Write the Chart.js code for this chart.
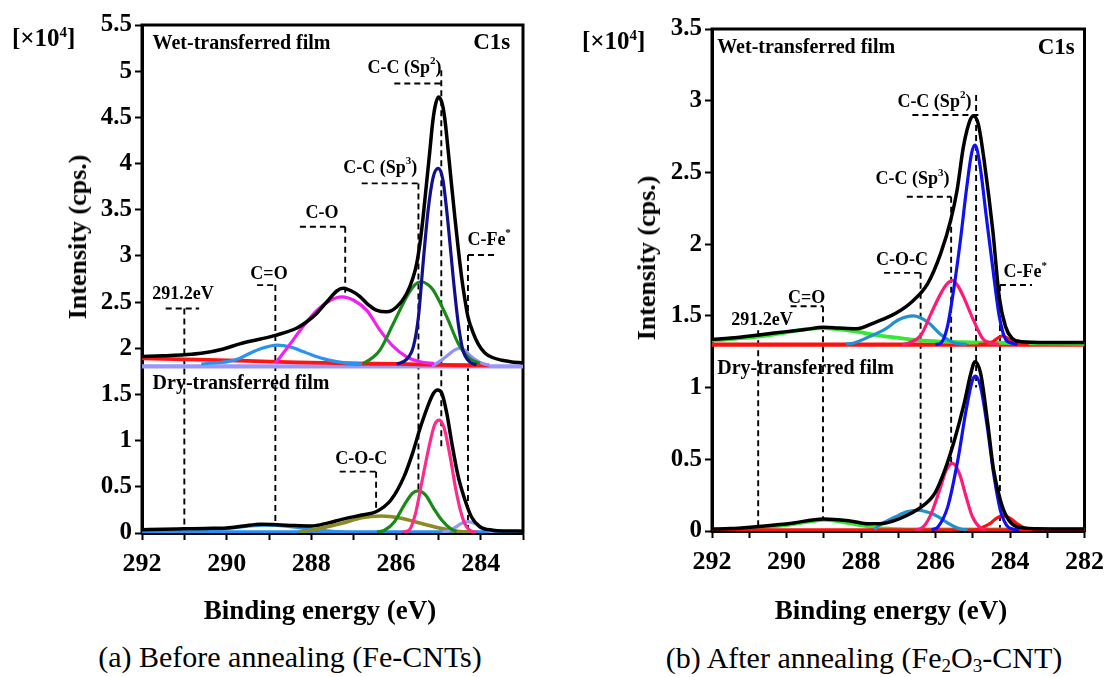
<!DOCTYPE html>
<html lang="en">
<head>
  <meta charset="UTF-8" />
  <title>C1s spectra of wet- and dry-transferred films</title>
  <script src="https://cdn.jsdelivr.net/npm/chart.js"></script>
  <style>
    body { margin: 0; background: #fff; font-family: "Liberation Serif", "Times New Roman", serif; }
    .page { position: relative; width: 1113px; height: 677px; overflow: hidden; }
    canvas { position: absolute; top: 0; }
    #chartA { left: 0; }
    #chartB { left: 556px; }
    .txt { position: absolute; white-space: nowrap; color: #000; line-height: 1; }
    .unit { font-weight: bold; font-size: 25px; transform: translateY(-50%); }
    .unit sup { font-size: 15px; line-height: 0; vertical-align: 9px; }
    .ytitle { font-weight: bold; font-size: 26px; transform: translate(-50%, -50%) rotate(-90deg); }
    .xtitle { font-weight: bold; font-size: 27px; transform: translate(-50%, -50%); }
    .caption { font-size: 30px; transform: translate(-50%, -50%); }
    .caption sub { font-size: 19px; line-height: 0; vertical-align: -4px; }
  </style>
</head>
<body>
<div class="page">
  <canvas id="chartA" width="556" height="600"></canvas>
  <canvas id="chartB" width="557" height="600"></canvas>

  <div class="txt unit" style="left:12px; top:37px;">[&times;10<sup>4</sup>]</div>
  <div class="txt unit" style="left:582px; top:40px;">[&times;10<sup>4</sup>]</div>
  <div class="txt ytitle" style="left:78px; top:237px;">Intensity (cps.)</div>
  <div class="txt ytitle" style="left:647px; top:258px;">Intensity (cps.)</div>
  <div class="txt xtitle" style="left:320px; top:610px;">Binding energy (eV)</div>
  <div class="txt xtitle" style="left:891px; top:610px;">Binding energy (eV)</div>
  <div class="txt caption" style="left:290px; top:657px;">(a) Before annealing (Fe-CNTs)</div>
  <div class="txt caption" style="left:864px; top:658px;">(b) After annealing (Fe<sub>2</sub>O<sub>3</sub>-CNT)</div>
</div>

<script>
  // ------------------------------------------
  // (a) Before annealing: [binding energy eV, intensity x1e4 cps]
  // ------------------------------------------
  const aWetTotal = [[292,1.91],[291.5,1.92],[291,1.93],[290.6,1.945],[290.1,1.99],[289.67,2.05],[289.2,2.1],[288.85,2.14],[288.34,2.22],[288.1,2.29],[287.87,2.38],[287.6,2.52],[287.4,2.62],[287.25,2.65],[287.05,2.62],[286.85,2.56],[286.65,2.47],[286.45,2.41],[286.22,2.395],[285.98,2.45],[285.75,2.59],[285.6,2.76],[285.51,2.92],[285.43,3.15],[285.36,3.42],[285.28,3.78],[285.2,4.14],[285.14,4.42],[285.08,4.61],[285,4.72],[284.94,4.69],[284.89,4.61],[284.83,4.42],[284.77,4.15],[284.69,3.78],[284.61,3.42],[284.53,3.08],[284.45,2.77],[284.38,2.55],[284.3,2.34],[284.18,2.17],[284.05,2.04],[283.9,1.95],[283.72,1.9],[283.5,1.87],[283.3,1.855],[283,1.84]];
  const aWetCarbonyl = [[290.6,1.83],[290.2,1.845],[289.98,1.855],[289.7,1.89],[289.5,1.935],[289.2,1.995],[288.81,2.035],[288.5,2.015],[288.2,1.965],[288,1.93],[287.7,1.885],[287.4,1.855],[287.16,1.84],[286.8,1.83]];
  const aWetHydroxyl = [[288.85,1.837],[288.49,2.053],[288.26,2.197],[287.87,2.41],[287.55,2.52],[287.28,2.557],[287,2.52],[286.69,2.41],[286.38,2.197],[286.06,2.017],[285.75,1.908],[285.43,1.854],[285.1,1.835]];
  const aWetSp3 = [[286.77,1.837],[286.55,1.9],[286.38,1.98],[286.06,2.27],[285.75,2.557],[285.55,2.69],[285.4,2.72],[285.25,2.69],[285.12,2.63],[284.8,2.34],[284.53,2.053],[284.26,1.89],[284.02,1.837]];
  const aWetSp2 = [[285.98,1.83],[285.75,1.88],[285.59,2.017],[285.47,2.34],[285.36,2.92],[285.24,3.5],[285.12,3.856],[285,3.947],[284.89,3.82],[284.77,3.35],[284.65,2.77],[284.53,2.27],[284.42,1.98],[284.26,1.854],[284.1,1.82]];
  const aWetCFe = [[285.15,1.81],[285.04,1.837],[284.9,1.88],[284.77,1.926],[284.62,1.98],[284.49,2],[284.36,1.975],[284.26,1.926],[284.1,1.87],[283.95,1.835],[283.8,1.815]];
  const aWetShirley = [[292,1.89],[291,1.88],[290,1.87],[289,1.855],[288,1.845],[287,1.835],[286,1.83],[285,1.82],[283.8,1.815]];
  const aWetBase = [[292,1.805],[283,1.805]];

  const aDryTotal = [[292,0.036],[291.5,0.04],[291,0.045],[290.5,0.05],[290,0.055],[289.6,0.075],[289.2,0.095],[288.8,0.09],[288.4,0.08],[288,0.075],[287.6,0.11],[287.28,0.148],[286.81,0.195],[286.47,0.23],[286.12,0.357],[285.81,0.61],[285.61,0.862],[285.42,1.15],[285.22,1.407],[285.11,1.515],[285.02,1.548],[284.92,1.515],[284.8,1.295],[284.68,0.97],[284.53,0.61],[284.37,0.357],[284.22,0.176],[284.02,0.068],[283.71,0.03],[283.4,0.022],[283,0.02]];
  const aDryCarbonyl = [[290.8,0.01],[290.3,0.03],[289.8,0.06],[289.1,0.085],[288.5,0.07],[288,0.04],[287.5,0.018],[287.2,0.01]];
  const aDryEpoxy = [[288.3,0.01],[288,0.03],[287.7,0.06],[287.28,0.105],[286.81,0.166],[286.35,0.184],[285.88,0.159],[285.42,0.105],[284.95,0.05],[284.49,0.015],[284.2,0.01]];
  const aDrySp3 = [[286.45,0.01],[286.27,0.03],[286.04,0.12],[285.81,0.3],[285.61,0.43],[285.48,0.455],[285.3,0.41],[285.11,0.267],[284.92,0.14],[284.72,0.05],[284.57,0.015]];
  const aDrySp2 = [[285.85,0.01],[285.69,0.03],[285.54,0.21],[285.38,0.574],[285.22,0.934],[285.09,1.169],[284.98,1.223],[284.86,1.133],[284.72,0.826],[284.57,0.43],[284.41,0.14],[284.26,0.03],[284.1,0.01]];
  const aDryCFe = [[284.9,0.01],[284.75,0.025],[284.6,0.06],[284.45,0.105],[284.3,0.123],[284.15,0.105],[284,0.065],[283.85,0.03],[283.7,0.01]];
  const aDryBase = [[292,0.002],[283,0.002]];

  // dashed peak markers: vertical at E from top to bottom, arm from/to at armY
  const aMarkE      = [291.0, 288.85, 287.2, 285.47, 284.93, 284.3, 286.47];
  const aMarkTop    = [2.43, 2.684, 3.315, 3.785, 5.01, 3.01, 0.664];
  const aMarkBottom = [0.05, 0.1, 2.6, 0.447, 0.94, 0, 0.23];
  const aArmFrom    = [291.44, 289.28, 288.27, 286.81, 286.04, 284.3, 287.33];
  const aArmTo      = [290.65, 288.85, 287.2, 285.47, 284.93, 283.67, 286.47];
  const aArmY       = [2.43, 2.684, 3.315, 3.785, 4.867, 3.01, 0.664];
  const aPeakText   = ['291.2eV', 'C=O', 'C-O', 'C-C (Sp^3)', 'C-C (Sp^2)', 'C-Fe^*', 'C-O-C'];
  const aPeakE      = [291.03, 289.0, 287.75, 286.37, 285.8, 283.8, 286.82];
  const aPeakV      = [2.58, 2.8, 3.46, 3.947, 5.03, 3.17, 0.8];
  const aTitleE     = [291.75, 283.3, 291.75];
  const aTitleV     = [5.3, 5.3, 1.62];

  // ------------------------------------------
  // (b) After annealing
  // ------------------------------------------
  const bWetTotal = [[292,1.335],[291.5,1.345],[290.74,1.367],[290,1.39],[289.5,1.405],[289,1.42],[288.6,1.415],[288.13,1.41],[287.6,1.457],[287.08,1.516],[286.64,1.597],[286.21,1.725],[285.86,1.936],[285.59,2.169],[285.42,2.378],[285.25,2.68],[285.07,2.866],[284.98,2.894],[284.85,2.835],[284.68,2.556],[284.46,2.09],[284.29,1.634],[284.12,1.425],[283.95,1.345],[283.7,1.32],[283,1.315],[282,1.315]];
  const bWetCarbonyl = [[292,1.327],[291.4,1.34],[290.74,1.355],[290,1.385],[289.5,1.405],[289,1.415],[288.6,1.405],[288.13,1.39],[287.43,1.36],[286.8,1.34],[286.21,1.325],[285.3,1.316],[284.46,1.313],[283.4,1.308],[282,1.305]];
  const bWetEpoxy = [[288.4,1.303],[288.21,1.309],[287.78,1.355],[287.34,1.41],[286.99,1.473],[286.6,1.5],[286.21,1.457],[285.86,1.37],[285.5,1.312],[285.16,1.3]];
  const bWetSp3 = [[286.9,1.3],[286.73,1.309],[286.38,1.37],[286.12,1.516],[285.86,1.655],[285.7,1.72],[285.55,1.748],[285.4,1.71],[285.25,1.634],[284.98,1.47],[284.72,1.337],[284.46,1.309],[284.3,1.3]];
  const bWetSp2 = [[286,1.3],[285.86,1.309],[285.68,1.425],[285.5,1.704],[285.33,2.03],[285.16,2.4],[285.03,2.634],[284.94,2.69],[284.81,2.556],[284.64,2.2],[284.46,1.828],[284.29,1.5],[284.12,1.337],[283.94,1.309],[283.8,1.3]];
  const bWetCFe = [[284.85,1.3],[284.72,1.303],[284.46,1.32],[284.33,1.345],[284.2,1.36],[284.07,1.345],[283.94,1.32],[283.68,1.303],[283.5,1.3]];
  const bWetBase = [[292,1.3],[282,1.3]];

  const bDryTotal = [[292,0.014],[291.5,0.017],[290.83,0.03],[289.96,0.05],[289,0.084],[288.3,0.07],[287.78,0.05],[287.51,0.05],[286.98,0.085],[286.37,0.17],[286.02,0.263],[285.75,0.425],[285.49,0.635],[285.23,0.89],[285.05,1.1],[284.94,1.18],[284.79,1.1],[284.61,0.775],[284.44,0.425],[284.26,0.216],[284.09,0.1],[283.82,0.03],[283.3,0.016],[282,0.014]];
  const bDryCarbonyl = [[292,0.01],[291.5,0.014],[290.83,0.022],[289.96,0.042],[289.4,0.065],[289,0.077],[288.6,0.068],[288.3,0.054],[287.9,0.035],[287.6,0.022],[287.2,0.015],[286.8,0.012],[282,0.012]];
  const bDryEpoxy = [[287.64,0.01],[287.51,0.04],[287.3,0.07],[287.07,0.1],[286.75,0.135],[286.46,0.146],[286.2,0.13],[285.93,0.1],[285.7,0.06],[285.49,0.03],[285.3,0.012],[285.14,0.008]];
  const bDrySp3 = [[286.55,0.008],[286.37,0.02],[286.15,0.1],[285.89,0.286],[285.71,0.425],[285.54,0.472],[285.36,0.402],[285.18,0.24],[285.01,0.1],[284.79,0.02],[284.65,0.008]];
  const bDrySp2 = [[286.1,0.008],[285.93,0.03],[285.67,0.17],[285.4,0.496],[285.18,0.84],[285.01,1.05],[284.92,1.08],[284.79,1.006],[284.61,0.727],[284.44,0.4],[284.26,0.146],[284.09,0.04],[283.91,0.012],[283.75,0.008]];
  const bDryCFe = [[284.95,0.008],[284.88,0.01],[284.7,0.03],[284.53,0.053],[284.36,0.09],[284.19,0.105],[284,0.09],[283.82,0.053],[283.6,0.02],[283.39,0.008]];
  const bDryBase = [[292,0.002],[282,0.002]];

  const bMarkE      = [290.76, 289.02, 286.4, 285.58, 284.91, 284.27];
  const bMarkTop    = [1.4, 1.567, 1.8, 2.33, 3.04, 1.715];
  const bMarkBottom = [0.03, 0.08, 0.17, 0.47, 1.0, 0];
  const bArmFrom    = [290.76, 289.89, 287.38, 286.77, 286.62, 284.27];
  const bArmTo      = [290.76, 289.02, 286.4, 285.58, 284.79, 283.41];
  const bArmY       = [1.4, 1.567, 1.8, 2.33, 2.9, 1.715];
  const bPeakText   = ['291.2eV', 'C=O', 'C-O-C', 'C-C (Sp^3)', 'C-C (Sp^2)', 'C-Fe^*'];
  const bPeakE      = [290.66, 289.46, 286.9, 286.62, 286.03, 283.59];
  const bPeakV      = [1.47, 1.623, 1.89, 2.45, 2.99, 1.8];
  const bTitleE     = [291.86, 282.26, 291.86];
  const bTitleV     = [3.37, 3.37, 1.13];

  const titleText = ['Wet-transferred film', 'C1s', 'Dry-transferred film'];

  // ------------------------------------------
  // Helpers
  // ------------------------------------------
  const FONT = '"Liberation Serif", "Times New Roman", serif';

  function curve(points, color, width) {
    return {
      data: points.map(p => ({ x: p[0], y: p[1] })),
      borderColor: color,
      borderWidth: width,
      pointRadius: 0,
      fill: false,
      cubicInterpolationMode: 'monotone'
    };
  }

  // text where '^' marks the next character as superscript
  function drawRich(ctx, text, x, y, size, align) {
    const parts = [];
    for (let i = 0; i < text.length; i++) {
      if (text[i] === '^') { parts.push({ s: text[i + 1], sup: true }); i++; }
      else if (parts.length && !parts[parts.length - 1].sup) parts[parts.length - 1].s += text[i];
      else parts.push({ s: text[i], sup: false });
    }
    const supSize = Math.round(size * 0.6);
    let w = 0;
    parts.forEach(p => {
      ctx.font = `bold ${p.sup ? supSize : size}px ${FONT}`;
      p.w = ctx.measureText(p.s).width;
      w += p.w;
    });
    let cx = align === 'left' ? x : align === 'right' ? x - w : x - w / 2;
    ctx.textAlign = 'left';
    ctx.textBaseline = 'middle';
    parts.forEach(p => {
      ctx.font = `bold ${p.sup ? supSize : size}px ${FONT}`;
      ctx.fillText(p.s, cx, p.sup ? y - size * 0.38 : y);
      cx += p.w;
    });
  }

  function overlay(mark, peaks, titles) {
    return {
      id: 'overlay',
      // frame and dashed markers go under the spectra
      beforeDatasetsDraw(chart) {
        const { ctx, chartArea: a, scales: { x, y } } = chart;
        ctx.save();
        ctx.strokeStyle = '#000';
        ctx.lineWidth = 3;
        ctx.strokeRect(a.left, a.top, a.right - a.left, a.bottom - a.top);
        ctx.lineWidth = 1.9;
        ctx.setLineDash([6, 4]);
        mark.E.forEach((e, i) => {
          ctx.beginPath();
          ctx.moveTo(x.getPixelForValue(e), y.getPixelForValue(mark.top[i]));
          ctx.lineTo(x.getPixelForValue(e), y.getPixelForValue(mark.bottom[i]));
          if (mark.from[i] !== mark.to[i]) {
            ctx.moveTo(x.getPixelForValue(mark.from[i]), y.getPixelForValue(mark.armY[i]));
            ctx.lineTo(x.getPixelForValue(mark.to[i]), y.getPixelForValue(mark.armY[i]));
          }
          ctx.stroke();
        });
        ctx.restore();
      },
      afterDraw(chart) {
        const { ctx, scales: { x, y } } = chart;
        ctx.save();
        ctx.fillStyle = '#000';
        peaks.text.forEach((t, i) =>
          drawRich(ctx, t, x.getPixelForValue(peaks.E[i]), y.getPixelForValue(peaks.V[i]), 18, 'center'));
        titleText.forEach((t, i) =>
          drawRich(ctx, t, x.getPixelForValue(titles.E[i]), y.getPixelForValue(titles.V[i]),
                   i === 1 ? 23 : 20, i === 1 ? 'right' : 'left'));
        ctx.restore();
      }
    };
  }

  function axisStyle(size) {
    return {
      border: { display: true, color: '#000', width: 3 },
      grid: { drawOnChartArea: false, drawTicks: true, tickLength: 7, tickColor: '#000', tickWidth: 2 },
      ticks: { color: '#000', font: { family: FONT, size: size, weight: 'bold' } }
    };
  }

  function makeChart(id, xMin, yMax, yAxisW, xAxisH, padding, datasets, plugin) {
    const xs = axisStyle(26), ys = axisStyle(25);
    return new Chart(document.getElementById(id), {
      type: 'line',
      data: { datasets: datasets },
      options: {
        responsive: false,
        animation: false,
        devicePixelRatio: 1,
        layout: { padding: padding },
        plugins: { legend: { display: false }, tooltip: { enabled: false } },
        scales: {
          x: {
            type: 'linear', reverse: true, min: xMin, max: 292,
            border: xs.border, grid: xs.grid,
            ticks: Object.assign(xs.ticks, {
              stepSize: 1, autoSkip: false, maxRotation: 0, padding: 9,
              callback: v => (v % 2 === 0 ? String(v) : '')
            }),
            afterFit: s => { s.height = xAxisH; }
          },
          y: {
            type: 'linear', min: 0, max: yMax,
            border: ys.border, grid: ys.grid,
            ticks: Object.assign(ys.ticks, { stepSize: 0.5, padding: 3, callback: v => String(v) }),
            afterFit: s => { s.width = yAxisW; }
          }
        }
      },
      plugins: [plugin]
    });
  }

  // ------------------------------------------
  // Charts
  // ------------------------------------------
  window.addEventListener('DOMContentLoaded', () => {
    makeChart('chartA', 283, 5.5, 142, 67, { left: 0, top: 25, right: 33, bottom: 0 }, [
      curve(aWetTotal, '#000000', 3.5),
      curve(aWetSp2, '#10108c', 3.2),
      curve(aWetSp3, '#178a17', 3.2),
      curve(aWetHydroxyl, '#f21ef2', 3.2),
      curve(aWetCarbonyl, '#2a93f0', 3.2),
      curve(aWetCFe, '#9191fa', 3.2),
      curve(aWetShirley, '#ff1414', 3.8),
      curve(aWetBase, '#9898fb', 4.2),
      curve(aDryTotal, '#000000', 3.5),
      curve(aDrySp2, '#ff2a8c', 3.2),
      curve(aDrySp3, '#178a17', 3.2),
      curve(aDryCFe, '#9898f8', 3.2),
      curve(aDryEpoxy, '#8c8a22', 3.6),
      curve(aDryCarbonyl, '#2a93f0', 3.4),
      curve(aDryBase, '#2490f5', 5)
    ], overlay(
      { E: aMarkE, top: aMarkTop, bottom: aMarkBottom, from: aArmFrom, to: aArmTo, armY: aArmY },
      { text: aPeakText, E: aPeakE, V: aPeakV },
      { E: aTitleE, V: aTitleV }
    ));

    makeChart('chartB', 282, 3.5, 156, 69, { left: 0, top: 29, right: 19, bottom: 0 }, [
      curve(bWetTotal, '#000000', 3.5),
      curve(bWetSp2, '#1010f5', 3.2),
      curve(bWetSp3, '#ff1a78', 3.2),
      curve(bWetEpoxy, '#2290cc', 3.2),
      curve(bWetCFe, '#ff1010', 3.2),
      curve(bWetCarbonyl, '#35e835', 3.8),
      curve(bWetBase, '#ff1010', 4.2),
      curve(bDryTotal, '#000000', 3.5),
      curve(bDrySp2, '#1010f5', 3.2),
      curve(bDrySp3, '#ff1a78', 3.2),
      curve(bDryEpoxy, '#2290cc', 3.2),
      curve(bDryCFe, '#ff1010', 3.2),
      curve(bDryBase, '#ff1010', 5),
      curve(bDryCarbonyl, '#35e835', 3.8)
    ], overlay(
      { E: bMarkE, top: bMarkTop, bottom: bMarkBottom, from: bArmFrom, to: bArmTo, armY: bArmY },
      { text: bPeakText, E: bPeakE, V: bPeakV },
      { E: bTitleE, V: bTitleV }
    ));
  });
</script>
</body>
</html>
